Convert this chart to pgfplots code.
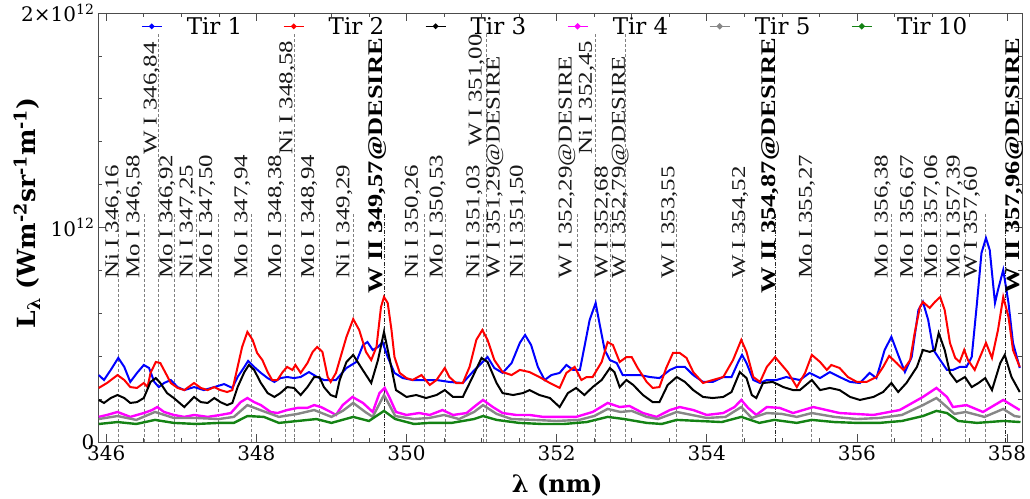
\documentclass[border=0pt]{standalone}
\usepackage{fontspec}
\setmainfont{DejaVu Serif}
\newfontfamily\lblfont[FakeStretch=1.27]{Liberation Serif}
\usepackage{pgfplots}
\pgfplotsset{compat=1.18}
\definecolor{tgreen}{RGB}{20,130,20}
\definecolor{tgray}{RGB}{135,135,135}
\definecolor{tmag}{RGB}{255,0,255}
\tikzset{
  lblline/.style={black!50, dash pattern=on 3pt off 2pt, line width=0.6pt},
  boldline/.style={black!85, dash pattern=on 4pt off 1.5pt on 1pt off 1.5pt, line width=0.9pt},
}
\newcommand{\lab}[3]{\node[rotate=90,anchor=base west,inner sep=0pt,font={\lblfont\fontsize{19.6}{20}\selectfont},text=black!90] at (axis cs:#1,#2) {#3};}
\newcommand{\blab}[3]{\node[rotate=90,anchor=base west,inner sep=0pt,font={\lblfont\bfseries\fontsize{20.8}{21}\selectfont}] at (axis cs:#1,#2) {#3};}
\newcommand{\vl}[2]{\draw[lblline] (axis cs:#1,0) -- (axis cs:#1,#2);}
\newcommand{\bvl}[2]{\draw[boldline] (axis cs:#1,0) -- (axis cs:#1,#2);}
\begin{document}
\begin{tikzpicture}
\begin{axis}[
  name=ax,
  scale only axis, width=924pt, height=429pt,
  xmin=345.89, xmax=358.2, ymin=0, ymax=2,
  xtick={346,348,350,352,354,356,358}, minor x tick num=3,
  ytick={0,1,2}, yticklabels={0,10\textsuperscript{12},2×10\textsuperscript{12}},
  minor y tick num=4,
  tick align=inside, major tick length=8pt, minor tick length=4pt,
  axis line style={gray!60!black, line width=0.8pt},
  every tick/.style={gray!60!black, line width=0.6pt},
  tick label style={font=\fontsize{20}{20}\selectfont},
  /pgf/number format/assume math mode=true,
  /pgf/number format/1000 sep={},
  xlabel={\textbf{λ (nm)}},
  xlabel style={font=\fontsize{24}{24}\selectfont, at={(axis description cs:0.497,-0.1)}, anchor=center},
  ylabel={\textbf{L\textsubscript{λ} (Wm\textsuperscript{-2}sr\textsuperscript{-1}m\textsuperscript{-1})}},
  ylabel style={font=\fontsize{25}{25}\selectfont, at={(axis description cs:-0.077,0.534)}, anchor=center},
  legend columns=6,
  legend style={draw=none, fill=none, at={(axis description cs:0.495,0.998)}, anchor=north,
    font=\fontsize{23}{23}\selectfont, inner sep=1pt,
    /tikz/every even column/.append style={column sep=39pt}},
  legend image code/.code={\draw[#1,line width=0.6pt] (0pt,0pt) -- (20pt,0pt); \fill[#1] (10pt,0pt) circle (1.6pt); \path (42pt,0pt);},
]
% line positions
\vl{346.156}{1.065}\vl{346.503}{1.065}\vl{346.70}{1.907}\vl{346.911}{1.065}\vl{347.2}{1.065}
\vl{347.489}{1.065}\vl{347.937}{1.065}\vl{348.383}{1.065}\vl{348.503}{1.907}\vl{348.836}{1.065}
\vl{349.293}{1.065}\bvl{349.707}{1.065}\vl{350.231}{1.065}\vl{350.52}{1.065}\vl{351.018}{1.065}
\vl{351.062}{1.907}\vl{351.307}{1.065}\vl{351.573}{1.065}\vl{352.28}{1.065}\vl{352.51}{1.907}
\vl{352.71}{1.065}\vl{352.92}{1.907}\vl{353.60}{1.065}\vl{354.47}{1.065}\bvl{354.91}{1.065}
\vl{355.396}{1.065}\vl{356.463}{1.065}\vl{356.863}{1.065}\vl{357.107}{1.065}\vl{357.44}{1.065}
\vl{357.707}{1.065}\bvl{357.973}{1.065}

\addplot[blue, line width=2pt] coordinates {
(345.90,0.312)(345.97,0.289)(346.06,0.336)(346.16,0.392)(346.24,0.350)(346.32,0.280)(346.41,0.322)(346.50,0.359)(346.57,0.345)(346.64,0.280)(346.70,0.256)(346.77,0.275)(346.86,0.289)(346.95,0.256)(347.04,0.242)(347.17,0.256)(347.30,0.242)(347.44,0.256)(347.57,0.270)(347.68,0.252)(347.75,0.303)(347.84,0.350)(347.89,0.378)(347.97,0.350)(348.06,0.322)(348.15,0.298)(348.24,0.280)(348.32,0.298)(348.41,0.303)(348.50,0.298)(348.59,0.303)(348.70,0.326)(348.81,0.303)(348.90,0.289)(348.99,0.289)(349.06,0.289)(349.20,0.345)(349.33,0.373)(349.42,0.452)(349.48,0.466)(349.55,0.429)(349.62,0.443)(349.68,0.466)(349.75,0.396)(349.84,0.322)(349.95,0.298)(350.08,0.289)(350.22,0.289)(350.40,0.289)(350.57,0.280)(350.75,0.275)(350.88,0.326)(351.00,0.368)(351.08,0.396)(351.17,0.345)(351.28,0.322)(351.40,0.368)(351.51,0.462)(351.58,0.499)(351.66,0.452)(351.75,0.350)(351.84,0.289)(351.93,0.312)(352.04,0.322)(352.13,0.359)(352.22,0.336)(352.31,0.336)(352.37,0.443)(352.44,0.569)(352.52,0.648)(352.57,0.555)(352.64,0.429)(352.71,0.382)(352.80,0.368)(352.88,0.312)(352.97,0.312)(353.11,0.312)(353.24,0.303)(353.37,0.298)(353.51,0.336)(353.60,0.350)(353.71,0.350)(353.82,0.312)(353.95,0.280)(354.08,0.280)(354.22,0.303)(354.33,0.303)(354.42,0.373)(354.47,0.406)(354.53,0.368)(354.62,0.289)(354.71,0.275)(354.80,0.289)(354.93,0.289)(355.06,0.303)(355.11,0.298)(355.24,0.289)(355.37,0.322)(355.51,0.298)(355.64,0.326)(355.77,0.303)(355.91,0.280)(356.04,0.275)(356.17,0.322)(356.26,0.298)(356.37,0.429)(356.46,0.490)(356.55,0.406)(356.64,0.326)(356.73,0.396)(356.82,0.615)(356.88,0.653)(356.95,0.569)(357.02,0.429)(357.11,0.382)(357.20,0.336)(357.28,0.336)(357.37,0.350)(357.46,0.350)(357.53,0.396)(357.60,0.648)(357.66,0.881)(357.72,0.951)(357.77,0.895)(357.84,0.648)(357.88,0.709)(357.95,0.802)(358.02,0.648)(358.08,0.462)(358.17,0.345)
};
\addlegendentry{Tir 1}
\addplot[red, line width=2pt] coordinates {
(345.90,0.252)(346.01,0.275)(346.15,0.312)(346.24,0.289)(346.32,0.256)(346.41,0.252)(346.50,0.275)(346.55,0.256)(346.59,0.322)(346.66,0.373)(346.72,0.368)(346.79,0.322)(346.86,0.275)(346.95,0.252)(347.04,0.242)(347.17,0.275)(347.26,0.252)(347.35,0.242)(347.44,0.256)(347.52,0.242)(347.61,0.233)(347.68,0.242)(347.75,0.350)(347.81,0.443)(347.88,0.513)(347.95,0.476)(348.01,0.415)(348.08,0.382)(348.15,0.326)(348.21,0.289)(348.28,0.289)(348.35,0.326)(348.41,0.350)(348.48,0.336)(348.52,0.359)(348.59,0.322)(348.68,0.368)(348.75,0.420)(348.81,0.443)(348.88,0.420)(348.95,0.303)(348.99,0.280)(349.06,0.322)(349.20,0.490)(349.29,0.573)(349.37,0.522)(349.46,0.420)(349.53,0.382)(349.60,0.443)(349.66,0.629)(349.70,0.676)(349.75,0.648)(349.80,0.522)(349.84,0.396)(349.91,0.322)(350.00,0.298)(350.08,0.289)(350.20,0.312)(350.31,0.266)(350.40,0.289)(350.51,0.345)(350.57,0.303)(350.66,0.275)(350.75,0.275)(350.84,0.350)(350.93,0.476)(351.01,0.522)(351.08,0.476)(351.17,0.382)(351.28,0.326)(351.40,0.312)(351.51,0.336)(351.64,0.326)(351.77,0.303)(351.91,0.275)(352.04,0.252)(352.13,0.322)(352.24,0.350)(352.33,0.289)(352.40,0.303)(352.48,0.303)(352.60,0.373)(352.68,0.466)(352.75,0.452)(352.84,0.373)(352.93,0.396)(353.00,0.396)(353.08,0.345)(353.20,0.280)(353.28,0.252)(353.37,0.256)(353.46,0.345)(353.55,0.415)(353.64,0.415)(353.73,0.392)(353.82,0.326)(353.95,0.275)(354.08,0.289)(354.22,0.303)(354.35,0.382)(354.46,0.476)(354.53,0.420)(354.62,0.303)(354.71,0.280)(354.80,0.350)(354.91,0.396)(355.00,0.359)(355.08,0.326)(355.20,0.256)(355.31,0.322)(355.40,0.406)(355.51,0.373)(355.60,0.336)(355.66,0.359)(355.77,0.345)(355.88,0.303)(356.00,0.280)(356.13,0.280)(356.26,0.303)(356.35,0.350)(356.43,0.401)(356.53,0.368)(356.62,0.336)(356.71,0.382)(356.77,0.508)(356.84,0.629)(356.88,0.653)(356.97,0.625)(357.04,0.653)(357.11,0.676)(357.17,0.615)(357.24,0.462)(357.31,0.392)(357.37,0.373)(357.43,0.429)(357.48,0.382)(357.57,0.336)(357.64,0.396)(357.72,0.462)(357.80,0.392)(357.88,0.522)(357.95,0.676)(358.02,0.583)(358.08,0.429)(358.17,0.350)
};
\addlegendentry{Tir 2}
\addplot[black, line width=2pt] coordinates {
(345.90,0.196)(345.97,0.182)(346.06,0.205)(346.15,0.219)(346.24,0.205)(346.32,0.182)(346.41,0.186)(346.50,0.205)(346.59,0.280)(346.66,0.298)(346.72,0.275)(346.81,0.228)(346.90,0.205)(347.04,0.163)(347.17,0.210)(347.26,0.186)(347.35,0.182)(347.44,0.205)(347.52,0.186)(347.61,0.172)(347.68,0.182)(347.75,0.256)(347.84,0.326)(347.90,0.359)(347.97,0.336)(348.06,0.275)(348.15,0.228)(348.24,0.210)(348.32,0.228)(348.41,0.256)(348.50,0.252)(348.59,0.219)(348.68,0.256)(348.77,0.303)(348.84,0.303)(348.90,0.256)(348.99,0.219)(349.06,0.210)(349.11,0.289)(349.20,0.373)(349.29,0.406)(349.40,0.345)(349.53,0.275)(349.62,0.382)(349.70,0.513)(349.77,0.396)(349.86,0.242)(350.00,0.210)(350.13,0.219)(350.26,0.205)(350.40,0.219)(350.51,0.242)(350.62,0.210)(350.75,0.210)(350.88,0.303)(351.00,0.392)(351.08,0.373)(351.20,0.275)(351.28,0.228)(351.42,0.219)(351.55,0.228)(351.64,0.242)(351.77,0.219)(351.91,0.205)(352.04,0.163)(352.15,0.228)(352.26,0.252)(352.37,0.219)(352.48,0.256)(352.60,0.289)(352.71,0.345)(352.77,0.326)(352.84,0.256)(352.93,0.289)(353.02,0.266)(353.15,0.219)(353.28,0.186)(353.37,0.186)(353.48,0.266)(353.60,0.303)(353.71,0.280)(353.82,0.242)(353.95,0.210)(354.08,0.205)(354.22,0.210)(354.33,0.233)(354.44,0.326)(354.53,0.298)(354.60,0.219)(354.66,0.205)(354.75,0.275)(354.88,0.280)(355.02,0.256)(355.15,0.242)(355.24,0.242)(355.40,0.289)(355.51,0.242)(355.64,0.252)(355.77,0.242)(355.91,0.210)(356.04,0.196)(356.22,0.210)(356.35,0.233)(356.46,0.275)(356.55,0.233)(356.66,0.275)(356.80,0.350)(356.88,0.429)(356.97,0.420)(357.04,0.429)(357.09,0.508)(357.17,0.429)(357.24,0.322)(357.33,0.280)(357.44,0.303)(357.53,0.256)(357.62,0.275)(357.71,0.298)(357.80,0.242)(357.91,0.368)(357.97,0.406)(358.06,0.303)(358.17,0.233)
};
\addlegendentry{Tir 3}
\addplot[tmag, line width=2.4pt] coordinates {
(345.90,0.117)(346.01,0.126)(346.15,0.140)(346.32,0.117)(346.50,0.135)(346.61,0.149)(346.68,0.163)(346.77,0.140)(346.90,0.126)(347.04,0.117)(347.17,0.126)(347.35,0.117)(347.52,0.126)(347.66,0.135)(347.79,0.186)(347.88,0.205)(347.97,0.186)(348.06,0.172)(348.19,0.140)(348.28,0.135)(348.41,0.149)(348.55,0.159)(348.68,0.159)(348.77,0.172)(348.86,0.163)(348.99,0.140)(349.06,0.126)(349.15,0.172)(349.28,0.210)(349.42,0.182)(349.55,0.140)(349.64,0.228)(349.71,0.252)(349.77,0.210)(349.86,0.140)(350.00,0.126)(350.17,0.135)(350.31,0.126)(350.48,0.149)(350.62,0.126)(350.80,0.135)(350.93,0.172)(351.02,0.196)(351.15,0.163)(351.28,0.135)(351.46,0.126)(351.64,0.126)(351.82,0.117)(352.08,0.117)(352.26,0.117)(352.48,0.140)(352.68,0.182)(352.84,0.163)(352.97,0.168)(353.15,0.135)(353.33,0.117)(353.51,0.149)(353.64,0.163)(353.82,0.149)(354.00,0.126)(354.22,0.135)(354.37,0.163)(354.46,0.196)(354.55,0.159)(354.66,0.126)(354.80,0.163)(354.97,0.159)(355.15,0.135)(355.42,0.163)(355.77,0.135)(356.22,0.126)(356.57,0.149)(356.88,0.210)(357.06,0.252)(357.20,0.210)(357.28,0.163)(357.46,0.172)(357.68,0.140)(357.95,0.196)(358.17,0.149)
};
\addlegendentry{Tir 4}
\addplot[tgray, line width=2.4pt] coordinates {
(345.90,0.107)(346.15,0.121)(346.40,0.103)(346.65,0.140)(346.90,0.112)(347.20,0.112)(347.50,0.107)(347.70,0.117)(347.88,0.172)(348.05,0.149)(348.30,0.117)(348.55,0.131)(348.77,0.149)(349.00,0.117)(349.15,0.145)(349.29,0.182)(349.45,0.140)(349.55,0.117)(349.70,0.219)(349.85,0.121)(350.10,0.107)(350.30,0.112)(350.50,0.126)(350.70,0.107)(350.90,0.140)(351.02,0.172)(351.20,0.131)(351.40,0.107)(351.70,0.103)(352.00,0.098)(352.30,0.103)(352.50,0.121)(352.68,0.154)(352.85,0.140)(353.00,0.145)(353.20,0.117)(353.35,0.107)(353.60,0.140)(353.80,0.126)(354.00,0.112)(354.25,0.117)(354.46,0.163)(354.60,0.112)(354.80,0.135)(355.00,0.131)(355.20,0.117)(355.40,0.135)(355.70,0.117)(356.00,0.107)(356.30,0.112)(356.60,0.126)(356.88,0.172)(357.06,0.205)(357.20,0.163)(357.30,0.131)(357.45,0.140)(357.70,0.117)(357.95,0.154)(358.10,0.121)(358.18,0.117)
};
\addlegendentry{Tir 5}
\addplot[tgreen, line width=2.4pt] coordinates {
(345.90,0.084)(346.15,0.093)(346.40,0.084)(346.65,0.103)(346.90,0.089)(347.20,0.084)(347.50,0.089)(347.70,0.089)(347.88,0.121)(348.10,0.117)(348.30,0.089)(348.55,0.098)(348.80,0.107)(349.00,0.089)(349.29,0.117)(349.50,0.098)(349.70,0.145)(349.85,0.107)(350.10,0.084)(350.30,0.089)(350.60,0.089)(350.90,0.107)(351.02,0.121)(351.20,0.103)(351.50,0.089)(351.80,0.084)(352.10,0.084)(352.40,0.093)(352.68,0.117)(352.90,0.107)(353.20,0.089)(353.40,0.084)(353.60,0.103)(353.90,0.098)(354.20,0.093)(354.46,0.117)(354.70,0.089)(354.90,0.103)(355.20,0.089)(355.40,0.103)(355.70,0.093)(356.00,0.089)(356.30,0.089)(356.60,0.098)(356.88,0.121)(357.06,0.145)(357.20,0.135)(357.35,0.098)(357.60,0.089)(357.95,0.098)(358.18,0.093)
};
\addlegendentry{Tir 10}

% labels
\lab{346.16}{0.76}{Ni I 346,16}
\lab{346.44}{0.76}{Mo I 346,58}
\lab{346.67}{1.338}{W I 346,84}
\lab{346.88}{0.76}{Mo I 346,92}
\lab{347.15}{0.76}{Ni I 347,25}
\lab{347.41}{0.76}{Mo I 347,50}
\lab{347.88}{0.76}{Mo I 347,94}
\lab{348.33}{0.76}{Mo I 348,38}
\lab{348.48}{1.338}{Ni I 348,58}
\lab{348.77}{0.76}{Mo I 348,94}
\lab{349.24}{0.76}{Ni I 349,29}
\blab{349.68}{0.69}{W II 349,57@DESIRE}
\lab{350.15}{0.76}{Ni I 350,26}
\lab{350.48}{0.76}{Mo I 350,53}
\lab{350.97}{0.76}{Ni I 351,03}
\lab{351.00}{1.375}{W I 351,00}
\lab{351.24}{0.76}{W I 351,29@DESIRE}
\lab{351.55}{0.76}{Ni I 351,50}
\lab{352.20}{0.76}{W I 352,29@DESIRE}
\lab{352.47}{1.338}{Ni I 352,45}
\lab{352.68}{0.76}{W I 352,68}
\lab{352.91}{0.76}{W I 352,79@DESIRE}
\lab{353.57}{0.76}{W I 353,55}
\lab{354.51}{0.76}{W I 354,52}
\blab{354.91}{0.69}{W II 354,87@DESIRE}
\lab{355.40}{0.76}{Mo I 355,27}
\lab{356.41}{0.76}{Mo I 356,38}
\lab{356.75}{0.76}{Mo I 356,67}
\lab{357.07}{0.76}{Mo I 357,06}
\lab{357.37}{0.76}{Mo I 357,39}
\lab{357.60}{0.76}{W I 357,60}
\blab{358.17}{0.69}{W II 357,96@DESIRE}
\end{axis}
\pgfresetboundingbox
\path[use as bounding box] ([xshift=-98pt,yshift=-57pt]ax.south west) rectangle ([xshift=8pt,yshift=13pt]ax.north east);
\end{tikzpicture}
\end{document}
